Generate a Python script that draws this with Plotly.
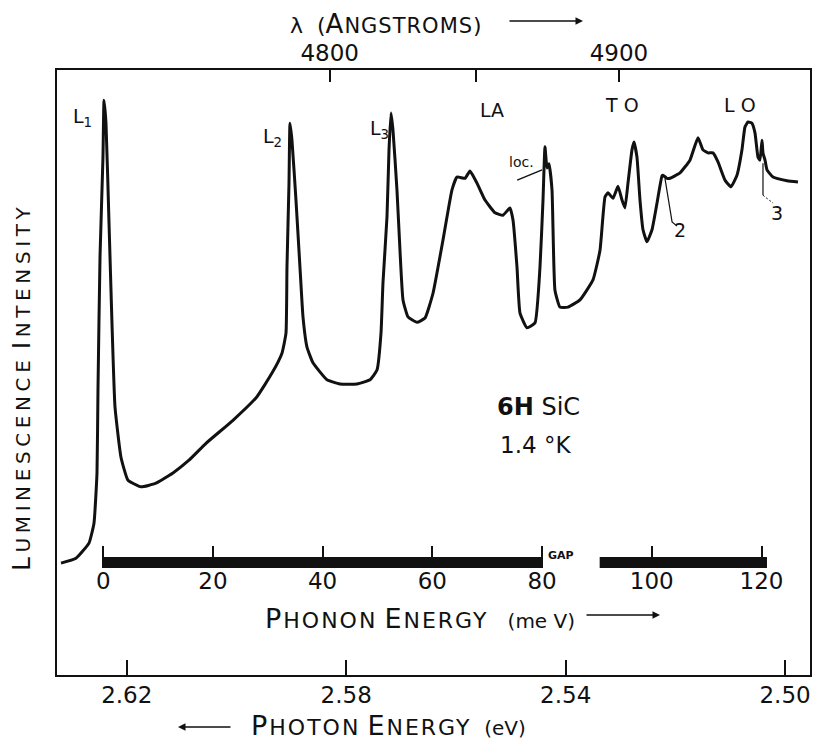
import plotly.graph_objects as go

# ---------------- data ----------------
phonon_energy_meV = [
    -7.69, -4.96, -2.59, -1.68, -1.13, -0.95, -0.58, -0.04, 0.15, 0.51,
    1.06, 1.60, 2.15, 3.24, 4.52, 6.89, 9.62, 12.72, 15.64, 18.74,
    23.66, 28.03, 30.77, 32.59, 33.32, 33.50, 33.87, 34.05, 34.41, 35.14,
    35.87, 36.42, 37.15, 38.24, 40.79, 43.16, 46.26, 48.63, 49.91, 50.64,
    51.00, 51.73, 52.10, 52.46, 52.82, 53.55, 54.10, 54.65, 55.56, 57.20,
    58.66, 60.12, 61.94, 63.58, 64.49, 65.95, 66.86, 68.14, 69.60, 71.42,
    72.88, 74.15, 74.70, 75.43, 75.98, 77.25, 78.71, 79.62, 80.17, 80.53,
    80.90, 81.26, 81.81, 82.35, 83.27, 84.72, 86.91, 89.28, 90.56, 91.47,
    92.01, 92.93, 93.84, 94.57, 95.11, 95.66, 96.39, 96.76, 97.30, 97.85,
    98.40, 99.12, 100.04, 100.95, 101.86, 102.04, 102.77, 103.32, 105.14, 106.96,
    108.42, 109.33, 110.24, 111.16, 112.07, 113.34, 114.44, 115.53, 116.44, 116.99,
    117.54, 118.26, 118.81, 119.36, 119.72, 120.09, 120.27, 120.64, 121.00, 122.10,
    124.65, 126.65,
]
intensity = [
    18.5, 19.3, 21.8, 25.1, 33.4, 47.1, 69.1, 85.6, 95.0, 91.2,
    74.7, 58.2, 44.3, 36.0, 32.2, 31.1, 31.7, 33.4, 35.5, 38.3,
    42.1, 46.0, 49.9, 53.2, 56.5, 67.4, 81.3, 91.2, 88.4, 78.5,
    67.4, 59.2, 54.2, 51.6, 48.8, 48.1, 48.1, 48.8, 50.4, 56.5,
    64.8, 75.7, 86.8, 92.9, 90.1, 80.2, 70.2, 62.0, 59.2, 58.3,
    59.0, 63.1, 71.9, 80.2, 82.3, 82.1, 83.3, 81.3, 78.5, 76.4,
    76.0, 77.2, 75.2, 67.4, 59.8, 57.4, 58.2, 67.4, 78.5, 87.3,
    83.8, 84.5, 80.2, 63.6, 60.8, 60.8, 62.0, 65.3, 70.2, 79.0,
    79.7, 78.8, 80.8, 78.5, 77.2, 81.3, 86.8, 88.1, 85.6, 78.5,
    73.6, 71.6, 73.6, 78.0, 82.5, 82.6, 82.1, 82.1, 83.0, 85.1,
    88.8, 86.8, 86.3, 86.3, 84.8, 81.8, 80.7, 82.6, 86.8, 90.6,
    91.4, 91.2, 89.6, 85.6, 85.1, 88.4, 86.3, 85.1, 83.5, 82.3,
    81.7, 81.5,
]

photon_ticks_eV = [2.62, 2.58, 2.54, 2.50]
photon_tick_labels = ["2.62", "2.58", "2.54", "2.50"]
phonon_ticks_meV = [0, 20, 40, 60, 80, 100, 120]
phonon_tick_labels = ["0", "20", "40", "60", "80", "100", "120"]
wavelength_ticks_A = [4800, 4850, 4900]
wavelength_tick_labels = ["4800", "", "4900"]
phonon_bar_segments_meV = [[0, 80], [90.5, 121]]

peak_labels = ["L<sub>1</sub>", "L<sub>2</sub>", "L<sub>3</sub>", "LA", "T O", "L O"]
peak_label_meV = [-3.7, 30.9, 50.3, 70.9, 94.6, 116.1]
peak_label_int = [92.2, 88.8, 90.1, 93.4, 94.2, 94.2]

zero_phonon_eV = 2.6243        # photon energy of the L1 line
phonon_range = [-8.42, 128.84]  # visible phonon-energy span (meV)
HC = 12398.42                   # eV * Angstrom

# ---------------- derived quantities ----------------
ev_range = [zero_phonon_eV - phonon_range[0] / 1000.0,
            zero_phonon_eV - phonon_range[1] / 1000.0]
photon_energy_eV = [zero_phonon_eV - m / 1000.0 for m in phonon_energy_meV]
wavelength_tickvals_eV = [HC / w for w in wavelength_ticks_A]

FONT = "DejaVu Sans"
BLACK = "#111111"


def small_caps(text, big, small, spacing=0):
    out = []
    for word in text.split(" "):
        if word and word[0].isalpha() and word[0].isupper():
            out.append(
                f"<span style='font-size:{big}px;letter-spacing:{spacing}px'>{word[0]}</span>"
                f"<span style='font-size:{small}px;letter-spacing:{spacing}px'>{word[1:]}</span>")
        else:
            out.append(f"<span style='font-size:{small}px;letter-spacing:{spacing}px'>{word}</span>")
    return " ".join(out)


fig = go.Figure()

# main spectrum on the photon-energy axis
fig.add_trace(go.Scatter(
    x=photon_energy_eV, y=intensity, xaxis="x", yaxis="y",
    mode="lines", line=dict(color=BLACK, width=3, shape="spline", smoothing=0.4),
    hoverinfo="skip", showlegend=False))
# invisible copies so the phonon and wavelength axes are drawn
fig.add_trace(go.Scatter(x=phonon_energy_meV, y=intensity, xaxis="x2", yaxis="y",
                         mode="lines", line=dict(width=0), opacity=0,
                         hoverinfo="skip", showlegend=False))
fig.add_trace(go.Scatter(x=photon_energy_eV, y=intensity, xaxis="x3", yaxis="y",
                         mode="lines", line=dict(width=0), opacity=0,
                         hoverinfo="skip", showlegend=False))

# leader lines for "loc.", "2", "3"
fig.add_trace(go.Scatter(x=[75.47, 80.0], y=[81.8, 83.5], xaxis="x2", yaxis="y",
                         mode="lines", line=dict(color=BLACK, width=1.5),
                         hoverinfo="skip", showlegend=False))
fig.add_trace(go.Scatter(x=[102.4, 103.7, 104.6], y=[82.1, 74.9, 74.2], xaxis="x2", yaxis="y",
                         mode="lines", line=dict(color=BLACK, width=1.2),
                         hoverinfo="skip", showlegend=False))
fig.add_trace(go.Scatter(x=[120.27, 120.27], y=[84.6, 79.3], xaxis="x2", yaxis="y",
                         mode="lines", line=dict(color=BLACK, width=1.2),
                         hoverinfo="skip", showlegend=False))
fig.add_trace(go.Scatter(x=[120.27, 122.1], y=[79.3, 78.0], xaxis="x2", yaxis="y",
                         mode="lines", line=dict(color=BLACK, width=1.0, dash="2px,2px"),
                         hoverinfo="skip", showlegend=False))

# thick phonon-energy bar with gap
shapes = []
bar_y = (675 - 562.5) / 605.0
for seg in phonon_bar_segments_meV:
    shapes.append(dict(type="line", xref="x2", yref="paper", x0=seg[0], x1=seg[1],
                       y0=bar_y, y1=bar_y, line=dict(color=BLACK, width=11)))


def pax(px):
    return (px - 57) / 753.0


def pay(py):
    return (675 - py) / 605.0


annotations = []
for t, xm, yi in zip(peak_labels, peak_label_meV, peak_label_int):
    annotations.append(dict(text=t, x=xm, y=yi, xref="x2", yref="y", showarrow=False,
                            xanchor="center", yanchor="middle",
                            font=dict(family=FONT, size=19, color=BLACK)))
annotations += [
    dict(text="loc.", x=76.3, y=84.8, xref="x2", yref="y", showarrow=False,
         xanchor="center", yanchor="middle", font=dict(family=FONT, size=14, color=BLACK)),
    dict(text="2", x=105.2, y=73.6, xref="x2", yref="y", showarrow=False,
         xanchor="center", yanchor="middle", font=dict(family=FONT, size=19, color=BLACK)),
    dict(text="3", x=122.9, y=76.4, xref="x2", yref="y", showarrow=False,
         xanchor="center", yanchor="middle", font=dict(family=FONT, size=19, color=BLACK)),
    dict(text="<b>GAP</b>", x=83.5, y=19.8, xref="x2", yref="y", showarrow=False,
         xanchor="center", yanchor="middle", font=dict(family=FONT, size=11, color=BLACK)),
    dict(text="<b>6H</b> SiC", x=71.4, y=44.3, xref="x2", yref="y", showarrow=False,
         xanchor="left", yanchor="middle", font=dict(family=FONT, size=24, color=BLACK)),
    dict(text="1.4 °K", x=72.0, y=38.0, xref="x2", yref="y", showarrow=False,
         xanchor="left", yanchor="middle", font=dict(family=FONT, size=23, color=BLACK)),
    # axis titles
    dict(text=small_caps("PHOTON ENERGY", 27, 22, 2) + "<span style='font-size:20px'>  (eV)</span>",
         x=pax(388), y=pay(725), xref="paper", yref="paper", xanchor="center", yanchor="middle",
         showarrow=False, font=dict(family=FONT, size=22, color=BLACK)),
    dict(text=small_caps("PHONON ENERGY", 27, 22, 2) + "<span style='font-size:20px'>   (me V)</span>",
         x=pax(420), y=pay(618), xref="paper", yref="paper", xanchor="center", yanchor="middle",
         showarrow=False, font=dict(family=FONT, size=22, color=BLACK)),
    dict(text="<span style='font-size:22px'>λ  (</span>" + small_caps("ANGSTROMS", 26, 21, 1) +
         "<span style='font-size:22px'>)</span>",
         x=pax(386), y=pay(24), xref="paper", yref="paper", xanchor="center", yanchor="middle",
         showarrow=False, font=dict(family=FONT, size=22, color=BLACK)),
    dict(text=small_caps("LUMINESCENCE INTENSITY", 25, 20, 4.6),
         x=pax(22), y=pay(387), xref="paper", yref="paper", xanchor="center", yanchor="middle",
         textangle=-90, showarrow=False, font=dict(family=FONT, size=20, color=BLACK)),
    # arrows
    dict(text="", x=pax(178), y=pay(727), xref="paper", yref="paper",
         showarrow=True, ax=54, ay=0, arrowhead=2, arrowsize=1, arrowwidth=1.5, arrowcolor=BLACK),
    dict(text="", x=pax(660), y=pay(615), xref="paper", yref="paper",
         showarrow=True, ax=-75, ay=0, arrowhead=2, arrowsize=1, arrowwidth=1.5, arrowcolor=BLACK),
    dict(text="", x=pax(583), y=pay(21), xref="paper", yref="paper",
         showarrow=True, ax=-75, ay=0, arrowhead=2, arrowsize=1, arrowwidth=1.5, arrowcolor=BLACK),
]

tickfont = dict(family=FONT, size=23, color=BLACK)

# page body has an 8px default margin: the figure is sized to fit the 825x742 window
fig.update_layout(
    width=817, height=734,
    margin=dict(l=49, r=15, t=62, b=67),
    paper_bgcolor="white", plot_bgcolor="white",
    showlegend=False,
    xaxis=dict(range=ev_range, tickvals=photon_ticks_eV, ticktext=photon_tick_labels,
               ticks="inside", ticklen=15, tickwidth=1.5, tickcolor=BLACK,
               showline=True, linewidth=2, linecolor=BLACK, mirror=False,
               showgrid=False, zeroline=False, tickfont=tickfont, ticklabelstandoff=-2),
    xaxis2=dict(range=phonon_range, overlaying="x", anchor="free",
                position=(675 - 568) / 605.0, side="bottom",
                tickvals=phonon_ticks_meV, ticktext=phonon_tick_labels,
                ticks="inside", ticklen=22, tickwidth=1.5, tickcolor=BLACK,
                showline=False, showgrid=False, zeroline=False,
                tickfont=tickfont, ticklabelstandoff=-3),
    xaxis3=dict(range=ev_range, overlaying="x", anchor="y", side="top",
                tickvals=wavelength_tickvals_eV, ticktext=wavelength_tick_labels,
                ticks="inside", ticklen=12, tickwidth=1.5, tickcolor=BLACK,
                showline=True, linewidth=2, linecolor=BLACK,
                showgrid=False, zeroline=False, tickfont=tickfont, ticklabelstandoff=-2),
    yaxis=dict(range=[0, 100], showticklabels=False, ticks="",
               showline=True, linewidth=2, linecolor=BLACK, mirror=True,
               showgrid=False, zeroline=False),
    shapes=shapes,
    annotations=annotations,
)

fig.write_html("out.html")
